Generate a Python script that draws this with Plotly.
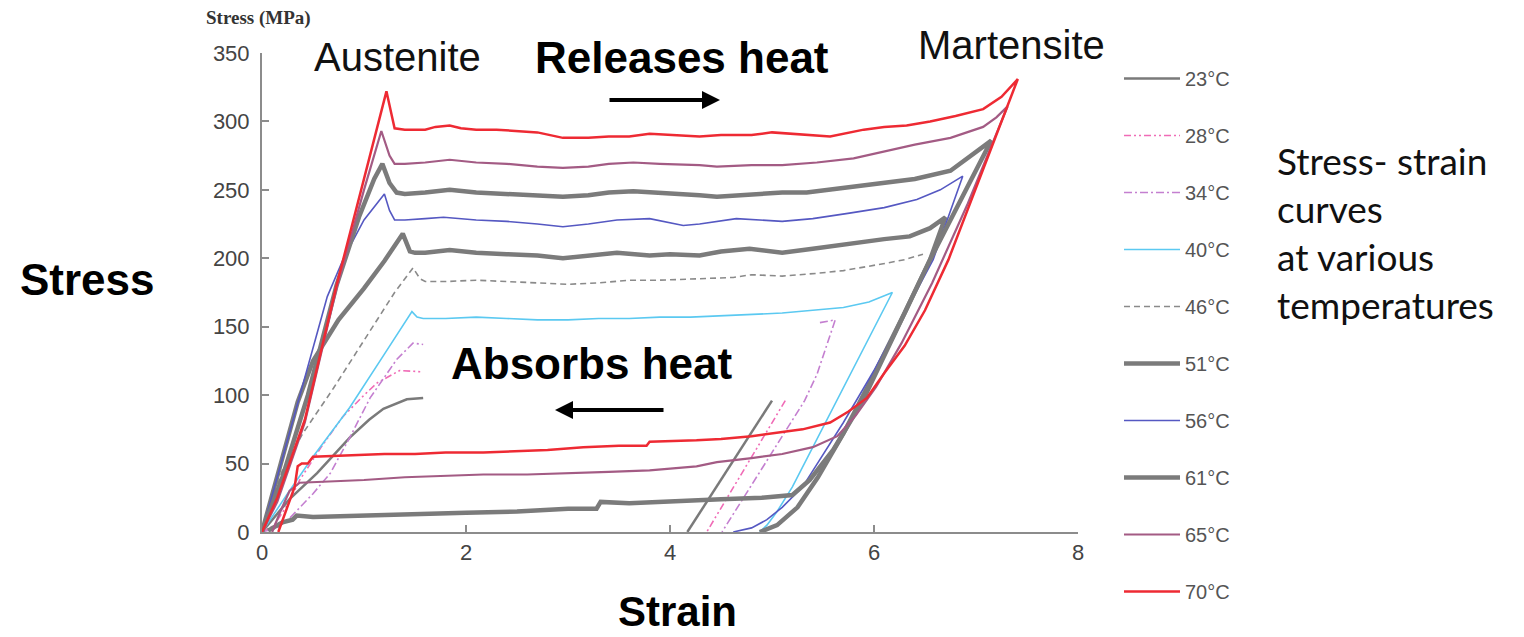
import plotly.graph_objects as go

# ---------------- data (strain %, stress MPa) ----------------
temps = ["23°C", "28°C", "34°C", "40°C", "46°C", "51°C", "56°C", "61°C", "65°C", "70°C"]

strain_23 = [0, 0.27, 0.54, 0.86, 1.05, 1.19, 1.42, 1.58, None, 5.0, 4.17]
stress_23 = [0, 24, 43, 69, 82, 90, 97, 98, None, 96, 0]

strain_28 = [0, 0.12, 0.25, 0.37, 0.58, 0.79, 1.0, 1.13, 1.35, 1.58, None, 5.13, 4.36]
stress_28 = [0, 5, 20, 38, 62, 84, 100, 109, 118, 117, None, 96, 0]

strain_34 = [0, 0.15, 0.27, 0.5, 0.67, 0.86, 1.06, 1.32, 1.48, 1.58, None,
             5.47, 5.62, 5.44, 5.32, 4.51]
stress_34 = [0, 3, 10, 28, 43, 69, 98, 126, 138, 137, None,
             153, 155, 115, 96, 0]

strain_40 = [0, 0.25, 0.5, 0.86, 1.2, 1.47, 1.52, 1.58, 1.8, 2.1, 2.4, 2.7, 3.0, 3.3, 3.6,
             3.9, 4.2, 4.5, 4.8, 5.1, 5.4, 5.7, 5.95, 6.18, 5.2, 5.05, 4.95, 4.88]
stress_40 = [0, 28, 55, 91, 130, 161, 157, 156, 156, 157, 156, 155, 155, 156, 156,
             157, 157, 158, 159, 160, 162, 164, 168, 175, 33, 15, 5, 0]

strain_46 = [0, 0.2, 0.4, 0.7, 1.0, 1.3, 1.48, 1.55, 1.6, 1.8, 2.1, 2.4, 2.7, 3.0, 3.3, 3.6,
             3.9, 4.2, 4.62, 4.8, 5.1, 5.44, 5.7, 6.09, 6.3, 6.48]
stress_46 = [0, 45, 72, 105, 140, 175, 193, 185, 183, 183, 184, 183, 182, 181, 182, 184,
             184, 185, 186, 188, 187, 189, 191, 196, 199, 203]

strain_51 = [0, 0.15, 0.35, 0.5, 0.75, 1.0, 1.2, 1.38, 1.45, 1.5, 1.6, 1.84, 2.1, 2.4, 2.7,
             2.95, 3.2, 3.48, 3.8, 4.0, 4.29, 4.5, 4.78, 5.1, 5.4, 5.76, 6.1, 6.35, 6.55, 6.7,
             6.55, 6.3, 6.0, 5.7, 5.45, 5.25, 5.05, 4.88]
stress_51 = [0, 40, 95, 125, 155, 178, 198, 218, 205, 204, 204, 206, 204, 203, 202,
             200, 202, 204, 202, 203, 202, 205, 207, 204, 207, 211, 214, 216, 222, 230,
             199, 160, 115, 72, 40, 18, 5, 0]

strain_56 = [0, 0.32, 0.64, 0.8, 1.0, 1.2, 1.25, 1.3, 1.4, 1.6, 1.78, 2.1, 2.4, 2.7, 2.95,
             3.2, 3.48, 3.8, 4.13, 4.29, 4.65, 5.1, 5.4, 5.76, 6.1, 6.42, 6.65, 6.87,
             6.58, 6.3, 6.0, 5.7, 5.45, 5.3, 5.1, 4.95, 4.8, 4.62]
stress_56 = [0, 85, 172, 200, 228, 247, 235, 228, 228, 229, 230, 228, 227, 225, 223,
             225, 228, 229, 224, 225, 229, 227, 229, 233, 237, 243, 250, 260,
             199, 160, 118, 80, 50, 33, 18, 9, 3, 0]

strain_61 = [0, 0.2, 0.45, 0.73, 0.95, 1.1, 1.18, 1.25, 1.32, 1.4, 1.6, 1.84, 2.1, 2.4, 2.7,
             2.95, 3.2, 3.4, 3.64, 3.9, 4.29, 4.46, 4.8, 5.1, 5.34, 5.76, 6.1, 6.4, 6.75,
             6.95, 7.15,
             6.55, 6.2, 5.89, 5.6, 5.37, 5.2, 4.9, 4.5, 4.26, 4.0, 3.6, 3.32, 3.28, 3.0,
             2.5, 2.0, 1.5, 1.0, 0.5, 0.34, 0.3, 0.2, 0.06]
stress_61 = [0, 40, 100, 180, 230, 258, 269, 255, 248, 247, 248, 250, 248, 247, 246,
             245, 246, 248, 249, 248, 246, 245, 247, 248, 248, 252, 255, 258, 264,
             275, 286,
             199, 145, 96, 60, 38, 27, 25, 24, 23, 22, 21, 22, 17, 17,
             15, 14, 13, 12, 11, 12, 9, 7, 1]

strain_65 = [0, 0.15, 0.42, 0.73, 1.0, 1.17, 1.25, 1.3, 1.4, 1.6, 1.84, 2.1, 2.4, 2.7,
             2.95, 3.2, 3.4, 3.64, 3.9, 4.29, 4.46, 4.8, 5.1, 5.44, 5.8, 6.09, 6.4, 6.75,
             7.07, 7.2, 7.31,
             6.92, 6.57, 6.27, 6.02, 5.82, 5.64, 5.4, 5.1, 4.8, 4.46, 4.26, 3.8, 3.4, 3.0,
             2.6, 2.17, 1.8, 1.4, 1.0, 0.6, 0.37, 0.27, 0.18, 0.1]
stress_65 = [0, 22, 80, 178, 250, 293, 275, 269, 269, 270, 272, 270, 269, 267,
             266, 267, 269, 270, 269, 268, 267, 268, 268, 270, 273, 278, 283, 288,
             296, 303, 311,
             240, 182, 138, 106, 85, 70, 62, 57, 54, 51, 48, 45, 44, 43,
             42, 42, 41, 40, 38, 37, 36, 30, 15, 0]

strain_70 = [0, 0.15, 0.42, 0.73, 1.0, 1.22, 1.27, 1.3, 1.4, 1.6, 1.7, 1.84, 1.95, 2.1,
             2.3, 2.5, 2.7, 2.95, 3.2, 3.4, 3.6, 3.8, 4.0, 4.29, 4.5, 4.8, 5.0, 5.2, 5.57,
             5.9, 6.1, 6.32, 6.55, 6.8, 7.07, 7.25, 7.41,
             6.73, 6.5, 6.3, 6.1, 5.93, 5.75, 5.57, 5.3, 5.1, 4.8, 4.5, 4.26, 3.8, 3.77,
             3.5, 3.15, 2.8, 2.5, 2.17, 1.8, 1.5, 1.2, 0.86, 0.5, 0.45, 0.39, 0.35, 0.32,
             0.16]
stress_70 = [0, 25, 82, 180, 258, 322, 305, 295, 294, 294, 296, 297, 295, 294,
             294, 293, 292, 288, 288, 289, 289, 291, 290, 289, 290, 290, 292, 291, 289,
             294, 296, 297, 300, 304, 309, 318, 331,
             199, 162, 136, 116, 98, 88, 80, 75, 73, 70, 68, 67, 66, 63,
             63, 62, 60, 59, 58, 58, 57, 57, 56, 55, 50, 50, 48, 33,
             0]

strains = [strain_23, strain_28, strain_34, strain_40, strain_46,
           strain_51, strain_56, strain_61, strain_65, strain_70]
stresses = [stress_23, stress_28, stress_34, stress_40, stress_46,
            stress_51, stress_56, stress_61, stress_65, stress_70]

x_ticks = [0, 2, 4, 6, 8]
y_ticks = [0, 50, 100, 150, 200, 250, 300, 350]

# ---------------- styles ----------------
colors = ["#7a7a7a", "#f06bb6", "#c47fd0", "#5bc9f1", "#8a8a8a",
          "#7b7b7b", "#5558c2", "#7b7b7b", "#a35b84", "#ee2a33"]
widths = [2.5, 1.6, 1.6, 1.6, 1.6, 4.5, 1.6, 4.5, 2.2, 2.5]
dashes = ["solid", "7px,3px,2px,3px,2px,3px", "8px,3px,2px,3px", "solid", "6px,4px",
          "solid", "solid", "solid", "solid", "solid"]

fig = go.Figure()
for i, t in enumerate(temps):
    fig.add_trace(go.Scatter(
        x=strains[i], y=stresses[i], mode="lines", name=t,
        legendgroup=t, connectgaps=False,
        line=dict(color=colors[i], width=widths[i], dash=dashes[i]),
    ))

# pixel -> paper helpers (plot area: x 262..1078, y 53..532)
L, R, T, B = 262, 1078, 53, 532
def px(x):
    return (x - L) / (R - L)
def py(y):
    return (B - y) / (B - T)

annos = []
def txt(text, x, y, size, bold=False, family="Liberation Sans, Arial", color="#111",
        xanchor="center", yanchor="middle", align="center"):
    annos.append(dict(text=("<b>%s</b>" % text) if bold else text, x=px(x), y=py(y),
                      xref="paper", yref="paper", showarrow=False,
                      xanchor=xanchor, yanchor=yanchor, align=align,
                      font=dict(size=size, family=family, color=color)))

txt("Stress (MPa)", 258, 18, 19, bold=True, family="Liberation Serif, Times New Roman", color="#333")
txt("Stress", 87, 279, 44, bold=True, color="#000")
txt("Strain", 677, 611, 42, bold=True, color="#000")
txt("Austenite", 397, 57, 40, color="#111")
txt("Releases heat", 682, 57, 44, bold=True, color="#000")
txt("Martensite", 1011, 45, 40, color="#111")
txt("Absorbs heat", 592, 364, 44, bold=True, color="#000")
txt("Stress- strain<br>curves<br>at various<br>temperatures", 1275, 136, 37,
    family="Lato, Open Sans", color="#111", xanchor="left", yanchor="top", align="left")

# arrows
annos.append(dict(x=(720 - L) / 102.0, y=(B - 100) / 1.3686, xref="x", yref="y",
                  ax=-112, ay=0, text="", showarrow=True, arrowhead=2, arrowsize=0.9,
                  arrowwidth=4, arrowcolor="#000", standoff=0))
annos.append(dict(x=(555 - L) / 102.0, y=(B - 410) / 1.3686, xref="x", yref="y",
                  ax=110, ay=0, text="", showarrow=True, arrowhead=2, arrowsize=0.9,
                  arrowwidth=4, arrowcolor="#000", standoff=0))

axis_col = "#8c8c8c"
fig.update_layout(
    width=1524, height=637,
    margin=dict(l=L, r=1524 - R, t=T, b=637 - B),
    paper_bgcolor="white", plot_bgcolor="white",
    font=dict(family="Liberation Sans, Arial", color="#444"),
    xaxis=dict(range=[0, 8], tickvals=x_ticks, showgrid=False, zeroline=False,
               showline=True, linecolor=axis_col, linewidth=2, ticks="inside",
               ticklen=7, tickwidth=1.5, tickcolor=axis_col,
               tickfont=dict(size=22, color="#444"), ticklabelstandoff=0),
    yaxis=dict(range=[0, 350], tickvals=y_ticks, showgrid=False, zeroline=False,
               showline=True, linecolor=axis_col, linewidth=2, ticks="inside",
               ticklen=7, tickwidth=1.5, tickcolor=axis_col,
               tickfont=dict(size=22, color="#444"), ticklabelstandoff=6),
    legend=dict(x=px(1119), y=py(59), xanchor="left", yanchor="top",
                font=dict(size=20, color="#555"), tracegroupgap=28, itemwidth=56,
                maxheight=620,
                bgcolor="rgba(0,0,0,0)", traceorder="grouped"),
    annotations=annos,
    showlegend=True,
)

fig.write_html("out.html", post_script="document.body.style.margin='0';",
               config={"displayModeBar": False})
